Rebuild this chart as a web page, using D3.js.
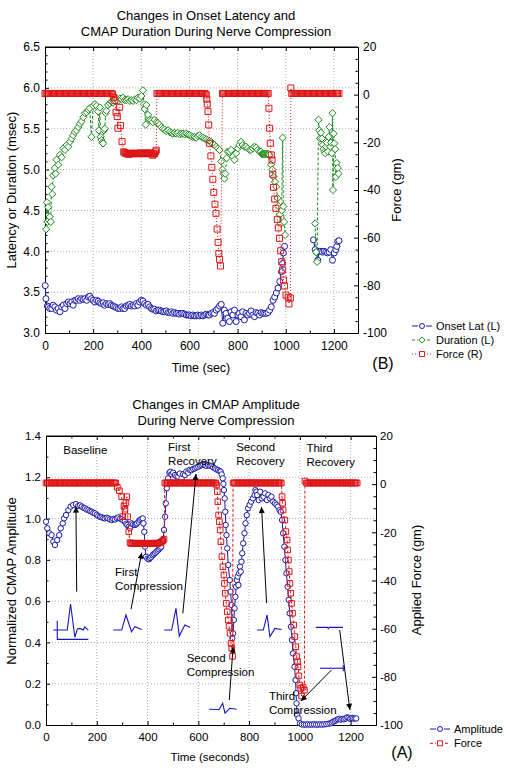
<!DOCTYPE html>
<html><head><meta charset="utf-8">
<script src="https://cdn.jsdelivr.net/npm/d3@7"></script>
<style>body{margin:0;background:#fff}svg{display:block}text{font-family:"Liberation Sans",Arial,sans-serif}</style>
</head><body><svg id="c" width="506" height="777"></svg>
<script>
// ---------- DATA ----------
const xTicks = [0,200,400,600,800,1000,1200];
const yTicksB = [3.0,3.5,4.0,4.5,5.0,5.5,6.0,6.5];
const yTicksA = [0.0,0.2,0.4,0.6,0.8,1.0,1.2,1.4];
const forceTicks = [-100,-80,-60,-40,-20,0,20];
const titleB = ["Changes in Onset Latency and","CMAP Duration During Nerve Compression"];
const titleA = ["Changes in CMAP Amplitude","During Nerve Compression"];
const legendB = ["Onset Lat (L)","Duration (L)","Force (R)"];
const legendA = ["Amplitude","Force"];

// Panel B: onset latency (msec), [time s, value]; null = gap
const onsetLat = [[1,3.58],[4,3.42],[10,3.33],[14,3.32],[20,3.30],[28,3.30],[34,3.34],[41,3.32],[48,3.28],[55,3.30],[62,3.26],[69,3.32],[76,3.34],[83,3.30],[90,3.36],[97,3.38],[104,3.36],[111,3.38],[117,3.34],[124,3.40],[131,3.40],[138,3.42],[145,3.40],[152,3.42],[159,3.41],[166,3.42],[173,3.40],[180,3.44],[186,3.45],[193,3.42],[200,3.40],[207,3.38],[214,3.40],[221,3.39],[228,3.37],[235,3.36],[242,3.37],[248,3.34],[255,3.36],[262,3.35],[269,3.36],[276,3.34],[283,3.33],[290,3.32],[297,3.31],[304,3.30],[311,3.30],[318,3.32],[324,3.30],[331,3.30],[338,3.33],[345,3.34],[352,3.35],[359,3.33],[366,3.34],[373,3.33],[380,3.36],[386,3.34],[393,3.38],[400,3.40],[407,3.39],[414,3.36],[421,3.34],[428,3.35],[435,3.32],[442,3.30],[448,3.29],[455,3.29],[462,3.27],[469,3.28],[476,3.28],[483,3.27],[490,3.26],[497,3.26],[504,3.27],[511,3.25],[518,3.25],[525,3.26],[531,3.24],[538,3.25],[545,3.24],[552,3.24],[559,3.23],[566,3.24],[573,3.24],[580,3.23],[587,3.22],[594,3.22],[600,3.22],[607,3.21],[614,3.22],[621,3.21],[628,3.21],[635,3.22],[642,3.21],[649,3.22],[656,3.21],[663,3.22],[670,3.23],[677,3.22],[683,3.22],[690,3.24],[697,3.25],[704,3.24],[711,3.28],[718,3.30],[725,3.33],[732,3.35],[738,3.12],[745,3.28],[752,3.24],[759,3.18],[766,3.14],[773,3.26],[780,3.22],[787,3.28],[794,3.14],[801,3.22],[807,3.24],[814,3.20],[821,3.26],[828,3.16],[835,3.24],[842,3.22],[849,3.24],[856,3.27],[863,3.22],[870,3.20],[877,3.25],[884,3.24],[891,3.22],[898,3.25],[905,3.24],[912,3.24],[919,3.24],[926,3.25],[933,3.28],[940,3.32],[947,3.40],[954,3.44],[961,3.49],[968,3.55],[975,3.63],[982,3.75],[987,3.85],[990,3.98],[995,4.06],null,
[1115,4.14],[1122,4.02],[1128,3.99],[1133,3.89],[1139,4.00],[1146,4.00],[1152,3.99],[1159,4.00],[1166,3.99],[1173,3.98],[1180,3.99],[1187,4.02],[1194,3.89],[1201,3.98],[1208,4.02],[1212,4.06],[1216,4.12],[1221,4.13]];

// Panel B: CMAP duration (msec)
const duration = [[5,4.27],[8,4.6],[10,4.36],[13,4.54],[16,4.38],[20,4.42],[24,4.36],[27,4.79],[30,4.7],[34,4.93],[41,5.02],[44,4.95],[48,5.12],[55,5.06],[62,5.18],[69,5.15],[76,5.26],[83,5.24],[90,5.3],[97,5.28],[104,5.34],[111,5.38],[117,5.42],[124,5.46],[131,5.48],[138,5.52],[145,5.56],[152,5.59],[159,5.64],[166,5.69],[173,5.7],[180,5.73],[186,5.75],[193,5.4],[200,5.78],[207,5.8],[214,5.78],[221,5.71],[224,5.48],[228,5.76],[231,5.4],[235,5.36],[238,5.33],[241,5.32],[245,5.48],[248,5.5],[252,5.69],[255,5.72],[262,5.79],[269,5.81],[276,5.83],[283,5.82],[290,5.85],[297,5.87],[304,5.84],[311,5.87],[318,5.86],[324,5.88],[331,5.85],[338,5.85],[345,5.86],[352,5.84],[359,5.85],[366,5.84],[373,5.86],[380,5.85],[386,5.88],[393,5.87],[400,5.9],[407,5.97],[411,5.8],[414,5.74],[418,5.55],[421,5.79],[428,5.67],[435,5.61],[442,5.6],[448,5.58],[455,5.61],[462,5.58],[469,5.57],[476,5.55],[483,5.52],[490,5.5],[497,5.49],[504,5.47],[511,5.48],[518,5.46],[525,5.45],[531,5.44],[538,5.45],[545,5.44],[552,5.45],[559,5.43],[566,5.44],[573,5.44],[580,5.43],[587,5.44],[594,5.43],[600,5.42],[607,5.41],[614,5.40],[621,5.40],[628,5.39],[635,5.41],[642,5.42],[649,5.40],[656,5.39],[663,5.38],[670,5.37],[677,5.36],[683,5.35],[690,5.34],[697,5.31],[704,5.30],[711,5.28],[718,5.26],[725,5.24],[732,5.10],[737,5.0],[741,4.95],[745,4.89],[749,4.95],[755,5.14],[759,5.22],[766,5.22],[773,5.24],[780,5.16],[787,5.12],[794,5.20],[801,5.26],[807,5.30],[814,5.34],[821,5.30],[828,5.28],[835,5.28],[842,5.26],[849,5.24],[856,5.24],[863,5.26],[870,5.28],[877,5.27],[884,5.24],[891,5.22],[897,5.22],[901,5.19],[904,5.19],[908,5.19],[911,5.19],[915,5.19],[918,5.19],[922,5.19],[925,5.19],[929,5.19],[932,5.18],[939,5.06],[944,5.0],[950,4.91],[955,4.85],[960,4.79],[966,4.65],[970,4.55],[975,4.45],[979,4.34],[983,4.5],[987,5.39],[990,4.55],[993,4.36],[997,4.2],null,
[1122,4.34],[1126,3.99],[1130,3.87],[1136,5.61],[1139,5.48],[1142,5.38],[1146,5.45],[1150,5.38],[1154,5.30],[1157,5.25],[1161,5.22],[1164,5.20],[1168,5.28],[1171,5.33],[1175,5.22],[1178,5.40],[1182,5.52],[1185,5.28],[1188,5.33],[1191,5.20],[1194,5.69],[1196,4.75],[1199,5.44],[1202,5.32],[1205,5.25],[1208,4.91],[1212,5.08],[1216,5.02],[1219,4.95]];

// Panel B: force (gm)
const forceB = [[0,.5],[5,.5],[10,.5],[15,.5],[20,.5],[25,.5],[30,.5],[35,.5],[40,.5],[45,.5],[50,.5],[55,.5],[60,.5],[65,.5],[70,.5],[75,.5],[80,.5],[85,.5],[90,.5],[95,.5],[100,.5],[105,.5],[110,.5],[115,.5],[120,.5],[125,.5],[130,.5],[135,.5],[140,.5],[145,.5],[150,.5],[155,.5],[160,.5],[165,.5],[170,.5],[175,.5],[180,.5],[185,.5],[190,.5],[195,.5],[200,.5],[205,.5],[210,.5],[215,.5],[220,.5],[225,.5],[230,.5],[235,.5],[240,.5],[245,.5],[250,.5],[255,.5],[260,.5],[265,.5],[270,.5],[275,.5],
[280,.3],[285,-1.1],[290,-2.5],[295,-7.4],[300,-9.2],[303,-14.1],[310,-5.3],[314,-13],[320,-19.7],[327,-24],
[331,-24.4],[335,-24.5],[339,-24.8],[343,-24.6],[347,-25],[351,-24.7],[355,-24.8],[359,-24.6],[363,-24.8],[367,-24.6],[371,-24.7],[375,-24.6],[379,-24.7],[383,-24.8],[387,-24.6],[391,-24.7],[395,-24.5],[399,-24.6],[403,-24.7],[407,-24.8],[411,-24.5],[415,-24.6],[419,-24.7],[423,-24.6],[427,-24.5],[431,-24.8],[435,-24.6],[439,-24.5],[443,-24.7],[447,-25.4],[451,-24.9],[455,-24.8],[459,-24],[462,-23.3],
[465,.5],[470,.5],[475,.5],[480,.5],[485,.5],[490,.5],[495,.5],[500,.5],[505,.5],[510,.5],[515,.5],[520,.5],[525,.5],[530,.5],[535,.5],[540,.5],[545,.5],[550,.5],[555,.5],[560,.5],[565,.5],[570,.5],[575,.5],[580,.5],[585,.5],[590,.5],[595,.5],[600,.5],[605,.5],[610,.5],[615,.5],[620,.5],[625,.5],[630,.5],[635,.5],[640,.5],[645,.5],[650,.5],[655,.5],[660,.5],[665,.5],
[670,-.1],[672,-1.9],[674,-3.9],[677,-7.1],[680,-12.7],[683,-20.4],[689,-25.7],[693,-30.5],[697,-35.5],[701,-41],[706,-46],[710,-49.8],[715,-56.4],[719,-62],[722,-66.6],[725,-69.1],[729,-71.9],
[737,.5],[742,.5],[747,.5],[752,.5],[757,.5],[762,.5],[767,.5],[772,.5],[777,.5],[782,.5],[787,.5],[792,.5],[797,.5],[802,.5],[807,.5],[812,.5],[817,.5],[822,.5],[827,.5],[832,.5],[837,.5],[842,.5],[847,.5],[852,.5],[857,.5],[862,.5],[867,.5],[872,.5],[877,.5],[882,.5],[887,.5],[892,.5],[897,.5],[902,.5],[907,.5],[912,.5],[917,.5],[922,.5],[927,.5],
[930,-5.7],[933,-14.1],[936,-20.4],[940,-25.3],[943,-27.4],[946,-33.4],[949,-38.9],[954,-43.8],[959,-47.7],[965,-52.3],[969,-55.9],[974,-60.3],[979,-65.5],[983,-70.1],[987,-73.6],[991,-77.8],[995,-80.3],[1001,-84.1],[1010,-85],[1013,-87.8],[1019,-85.3],
[1021,2.8],[1025,.5],[1030,.5],[1035,.5],[1040,.5],[1045,.5],[1050,.5],[1055,.5],[1060,.5],[1065,.5],[1070,.5],[1075,.5],[1080,.5],[1085,.5],[1090,.5],[1095,.5],[1100,.5],[1105,.5],[1110,.5],[1115,.5],[1120,.5],[1125,.5],[1130,.5],[1135,.5],[1140,.5],[1145,.5],[1150,.5],[1155,.5],[1160,.5],[1165,.5],[1170,.5],[1175,.5],[1180,.5],[1185,.5],[1190,.5],[1195,.5],[1200,.5],[1205,.5],[1210,.5],[1215,.5],[1221,.5]];

// Panel A: normalized amplitude
const amplitude = [[0,0.985],[5,0.953],[13,0.929],[22,0.92],[29,0.888],[35,0.872],[44,0.896],[52,0.92],[58,0.953],[66,0.977],[71,1.001],[79,1.017],[88,1.041],[97,1.058],[107,1.066],[118,1.07],[127,1.061],[134,1.064],[141,1.058],[148,1.052],[154,1.05],[160,1.044],[167,1.041],[174,1.036],[180,1.033],[187,1.028],[193,1.025],[200,1.018],[206,1.012],[213,1.008],[219,1.006],[226,1.003],[232,1.001],[239,1.004],[245,1.001],[252,0.996],[259,0.993],[265,0.998],[272,0.996],[279,1.002],[285,1.006],[292,1.0],[298,0.996],[305,0.99],[311,0.985],[316,0.975],[320,0.969],[326,0.96],[331,0.953],[337,0.977],[343,0.972],[350,0.969],[355,0.972],[359,0.977],[365,0.985],[370,0.993],[376,0.998],[381,1.001],[384,0.977],[387,0.936],[390,0.864],[394,0.815],[400,0.806],[406,0.803],[410,0.809],[415,0.815],[420,0.822],[424,0.828],[430,0.833],[435,0.839],[440,0.845],[445,0.851],[450,0.858],[454,0.864],[461,0.896],[465,0.945],[469,1.009],[472,1.074],[476,1.147],[481,1.195],[486,1.222],[490,1.227],[495,1.215],[501,1.222],[508,1.211],[514,1.205],[521,1.203],[527,1.218],[534,1.195],[540,1.215],[547,1.211],[553,1.228],[560,1.222],[566,1.236],[573,1.235],[580,1.24],[587,1.243],[593,1.248],[600,1.251],[606,1.256],[613,1.259],[619,1.262],[626,1.259],[632,1.255],[639,1.259],[645,1.256],[652,1.254],[658,1.249],[665,1.243],[671,1.238],[678,1.235],[684,1.23],[688,1.227],[692,1.214],[696,1.195],[699,1.168],[701,1.138],[704,1.098],[706,1.033],[708,0.969],[711,0.92],[714,0.856],[718,0.775],[724,0.702],[727,0.646],[731,0.581],[734,0.42],[737,0.444],[740,0.509],[743,0.565],[746,0.621],[749,0.67],[752,0.702],[755,0.719],[758,0.678],[761,0.735],[764,0.767],[767,0.743],[770,0.791],[773,0.832],[777,0.88],[782,0.929],[786,0.977],[791,1.017],[796,1.05],[802,1.066],[808,1.082],[815,1.098],[822,1.114],[825,1.138],[829,1.13],[832,1.114],[838,1.09],[844,1.13],[850,1.098],[857,1.106],[863,1.122],[870,1.09],[876,1.114],[882,1.098],[888,1.106],[895,1.082],[902,1.074],[908,1.066],[914,1.058],[920,1.041],[925,1.033],[930,0.993],[934,0.929],[939,0.864],[943,0.799],[947,0.735],[952,0.67],[956,0.606],[960,0.541],[965,0.476],[969,0.412],[973,0.347],[979,0.282],[983,0.218],[985,0.154],[987,0.105],[989,0.049],[995,0.032],[1001,0.008],[1008,0.003],[1016,0.002],[1024,0.002],[1032,0.003],[1040,0.002],[1048,0.002],[1056,0.003],[1064,0.002],[1072,0.002],[1080,0.003],[1088,0.002],[1096,0.003],[1104,0.004],[1112,0.006],[1120,0.008],[1126,0.012],[1132,0.016],[1138,0.02],[1144,0.024],[1150,0.028],[1156,0.03],[1162,0.026],[1168,0.03],[1174,0.028],[1180,0.032],[1186,0.037],[1192,0.035],[1198,0.03],[1204,0.033],[1210,0.032],[1216,0.031],[1222,0.032]];

// Panel A: applied force (gm)
const forceA = [[0,.5],[5,.5],[10,.5],[15,.5],[20,.5],[25,.5],[30,.5],[35,.5],[40,.5],[45,.5],[50,.5],[55,.5],[60,.5],[65,.5],[70,.5],[75,.5],[80,.5],[85,.5],[90,.5],[95,.5],[100,.5],[105,.5],[110,.5],[115,.5],[120,.5],[125,.5],[130,.5],[135,.5],[140,.5],[145,.5],[150,.5],[155,.5],[160,.5],[165,.5],[170,.5],[175,.5],[180,.5],[185,.5],[190,.5],[195,.5],[200,.5],[205,.5],[210,.5],[215,.5],[220,.5],[225,.5],[230,.5],[235,.5],[240,.5],[245,.5],[250,.5],[255,.5],[260,.5],[265,.5],[270,.5],[275,.5],
[281,-1.3],[289,-2.7],[298,-5.2],[302,-13.5],[307,-9.1],[311,-10.4],[315,-7.7],[318,-5.2],[322,-13.5],[326,-19.7],[331,-24.3],
[335,-24.6],[339,-24.5],[343,-24.5],[347,-24.7],[351,-24.7],[355,-24.6],[359,-24.5],[363,-24.5],[367,-24.7],[371,-24.6],[375,-24.6],[379,-24.5],[383,-24.5],[387,-24.6],[391,-24.7],[395,-24.6],[399,-24.5],[403,-24.6],[407,-24.6],[411,-24.6],[415,-24.5],[419,-24.6],[423,-24.7],[427,-24.6],[431,-24.5],[435,-24.5],[439,-24.6],[443,-24.5],[447,-24.4],[451,-24.2],[456,-23.8],[460,-23.5],[465,-22.9],
[468,.5],[473,.5],[478,.5],[483,.5],[488,.5],[493,.5],[498,.5],[503,.5],[508,.5],[513,.5],[518,.5],[523,.5],[528,.5],[533,.5],[538,.5],[543,.5],[548,.5],[553,.5],[558,.5],[563,.5],[568,.5],[573,.5],[578,.5],[583,.5],[588,.5],[593,.5],[598,.5],[603,.5],[608,.5],[613,.5],[618,.5],[623,.5],[628,.5],[633,.5],[638,.5],[643,.5],[648,.5],[653,.5],[658,.5],[663,.5],[668,.5],
[672,-.3],[675,-3.1],[677,-7.3],[680,-12.8],[683,-15.6],[686,-19],[689,-23.9],[693,-30.1],[697,-34.3],[701,-37.7],[703,-41.2],[706,-45.3],[710,-49.5],[714,-53],[718,-56.4],[721,-59],[725,-61.9],[729,-66.1],[732,-68.1],[735,-71.5],
[737,.5],[742,.5],[747,.5],[752,.5],[757,.5],[762,.5],[767,.5],[772,.5],[777,.5],[782,.5],[787,.5],[792,.5],[797,.5],[802,.5],[807,.5],[812,.5],[817,.5],[822,.5],[827,.5],[832,.5],[837,.5],[842,.5],[847,.5],[852,.5],[857,.5],[862,.5],[867,.5],[872,.5],[877,.5],[882,.5],[887,.5],[892,.5],[897,.5],[902,.5],[907,.5],[912,.5],[917,.5],[922,.5],[927,.5],
[930,-5.2],[932,-7.9],[934,-10.7],[941,-14.9],[945,-19.7],[950,-23.2],[952,-27.3],[955,-31.5],[958,-36.3],[961,-41.2],[964,-45.3],[967,-49.5],[971,-53.6],[976,-58.5],[980,-63.3],[984,-67.5],[987,-71.6],[991,-73.7],[993,-75.8],[996,-79.6],[1000,-83.4],[1004,-84.8],[1007,-88],[1013,-84.3],[1018,-85.5],
[1020,1.3],[1026,.5],[1031,.5],[1036,.5],[1041,.5],[1046,.5],[1051,.5],[1056,.5],[1061,.5],[1066,.5],[1071,.5],[1076,.5],[1081,.5],[1086,.5],[1091,.5],[1096,.5],[1101,.5],[1106,.5],[1111,.5],[1116,.5],[1121,.5],[1126,.5],[1131,.5],[1136,.5],[1141,.5],[1146,.5],[1151,.5],[1156,.5],[1161,.5],[1166,.5],[1171,.5],[1176,.5],[1181,.5],[1186,.5],[1191,.5],[1196,.5],[1201,.5],[1206,.5],[1211,.5],[1216,.5],[1221,.5],[1226,.5]];

// Panel A annotations: text lines anchored at [time, amplitude]
const notes = [
  {lines:["Baseline"], at:[68,1.313]},
  {lines:["First","Recovery"], at:[481,1.329]},
  {lines:["Second","Recovery"], at:[749,1.329]},
  {lines:["Third","Recovery"], at:[1026,1.322]},
  {lines:["First","Compression"], at:[272,0.722]},
  {lines:["Second","Compression"], at:[554,0.305]},
  {lines:["Third","Compression"], at:[878,0.121]}
];
// arrows [from, to] in [time, amplitude]
const arrows = [
  [[121,0.646],[118,1.058]],
  [[335,0.561],[377,0.835]],
  [[539,0.541],[591,1.216]],
  [[869,0.590],[849,1.056]],
  [[722,0.121],[737,0.379]],
  [[1125,0.267],[1004,0.116]],
  [[1157,0.460],[1197,0.073]]
];
// CMAP waveform sketches: anchor [time, amplitude] + offsets
const waves = [
  {at:[28.7,0.46], shape:[[0,0],[55,0],[68,0.126],[85,-0.035],[95,0.005],[105,0.008],[118,0],[124,0.015],[138,0]]},
  {at:[28.7,0.46], shape:[[15.7,0.045],[15.7,-0.045],[138,-0.045]]},
  {at:[265,0.46], shape:[[0,0],[33,0],[50,0.073],[72,-0.008],[85,0.016],[112,0.003]]},
  {at:[466,0.46], shape:[[0,0],[29,0],[46,0.105],[59,-0.029],[81,0.024],[101,0.013]]},
  {at:[643,0.076], shape:[[0,0],[39,-0.001],[53,0.029],[62,-0.019],[81,0.005],[108,0]]},
  {at:[832,0.46], shape:[[0,0],[24,0],[39,0.073],[50,-0.032],[70,0.008],[96,0.003]]},
  {at:[1063,0.473], shape:[[0,0],[46,0],[49,-0.006],[53,0],[107,0]]},
  {at:[1079,0.275], shape:[[0,0],[92,0]]},
  {at:[1079,0.275], shape:[[92,0.015],[92,-0.015]]}
];

// ---------- DRAWING ----------
const BLUE="#1a1aaa", GREEN="#1c8a1c", RED="#dd1515";
const svg = d3.select("#c");
const defs = svg.append("defs");
defs.append("marker").attr("id","ah").attr("viewBox","0 0 10 10").attr("refX",10).attr("refY",5)
  .attr("markerWidth",9).attr("markerHeight",6).attr("markerUnits","userSpaceOnUse").attr("orient","auto")
  .append("path").attr("d","M0,0L10,5L0,10Z").attr("fill","#000");

function range(a,b,s){const r=[];for(let v=a;v<=b+1e-9;v+=s)r.push(+v.toFixed(4));return r;}

function frame(P){
  const x=d3.scaleLinear().domain([0,1300]).range([P.l,P.r]);
  const y=d3.scaleLinear().domain(P.yDom).range([P.b,P.t]);
  const y2=d3.scaleLinear().domain([-100,20]).range([P.b,P.t]);
  const g=svg.append("g");
  g.selectAll(null).data(xTicks.filter(d=>d>0)).join("line")
    .attr("x1",d=>x(d)).attr("x2",d=>x(d)).attr("y1",P.t).attr("y2",P.b)
    .attr("stroke","#b0b0b0").attr("stroke-dasharray","1,2");
  g.selectAll(null).data(P.yTicks.slice(1,-1)).join("line")
    .attr("y1",d=>y(d)).attr("y2",d=>y(d)).attr("x1",P.l).attr("x2",P.r)
    .attr("stroke","#b0b0b0").attr("stroke-dasharray","1,2");
  const minorX=range(100,1300,100).filter(d=>d%200);
  const mm=(ax,vals,len)=>ax.tickValues(vals).tickSize(len).tickSizeOuter(0).tickFormat("");
  g.append("g").attr("transform",`translate(0,${P.b})`).call(mm(d3.axisBottom(x),minorX,-2.5));
  g.append("g").attr("transform",`translate(0,${P.t})`).call(mm(d3.axisTop(x),minorX,-2.5));
  g.append("g").attr("transform",`translate(0,${P.t})`).call(mm(d3.axisTop(x),xTicks,-4));
  g.append("g").attr("transform",`translate(${P.l},0)`).call(mm(d3.axisLeft(y),P.yMinor,-2.5));
  g.append("g").attr("transform",`translate(${P.r},0)`).call(mm(d3.axisRight(y2),range(-95,15,5).filter(d=>d%20),-2.5));
  const ax=[];
  ax.push(g.append("g").attr("transform",`translate(0,${P.b})`)
    .call(d3.axisBottom(x).tickValues(xTicks).tickSize(-4).tickSizeOuter(0).tickPadding(P.xPad).tickFormat(d=>String(d))));
  ax.push(g.append("g").attr("transform",`translate(${P.l},0)`)
    .call(d3.axisLeft(y).tickValues(P.yTicks).tickSize(-4).tickSizeOuter(0).tickPadding(5).tickFormat(d3.format(".1f"))));
  ax.push(g.append("g").attr("transform",`translate(${P.r},0)`)
    .call(d3.axisRight(y2).tickValues(forceTicks).tickSize(-4).tickSizeOuter(0).tickPadding(P.rPad).tickFormat(d=>String(d))));
  ax.forEach(a=>a.attr("font-size",P.fs).attr("font-family",null).selectAll("text").attr("fill","#000"));
  g.selectAll(".domain").attr("stroke","#000");
  g.selectAll(".tick line").attr("stroke","#000");
  g.append("line").attr("x1",P.l).attr("x2",P.r).attr("y1",P.t).attr("y2",P.t).attr("stroke","#000");
  return {x,y,y2,g};
}

function series(g,data,x,y,color,dash,shape,size){
  const line=d3.line().defined(d=>d).x(d=>x(d[0])).y(d=>y(d[1]));
  g.append("path").attr("d",line(data)).attr("fill","none").attr("stroke",color).attr("stroke-width",1)
    .attr("stroke-dasharray",dash);
  marks(g,data.filter(d=>d).map(d=>[x(d[0]),y(d[1])]),color,shape,size);
}
function marks(g,xy,color,shape,size){
  const s=size;
  g.selectAll(null).data(xy).join("path")
    .attr("d",([px,py])=>{
      if(shape==="circle") return `M${px-s},${py}a${s},${s} 0 1,0 ${2*s},0a${s},${s} 0 1,0 ${-2*s},0Z`;
      if(shape==="square") return `M${px-s},${py-s}h${2*s}v${2*s}h${-2*s}Z`;
      return `M${px},${py-s-0.6}L${px+s+0.6},${py}L${px},${py+s+0.6}L${px-s-0.6},${py}Z`;
    })
    .attr("fill",shape==="square"?"none":"#fff").attr("stroke",color).attr("stroke-width",1);
}
function legend(items,x0,y0,dy,tx,fs){
  items.forEach((it,i)=>{
    const yy=y0+i*dy;
    svg.append("line").attr("x1",x0).attr("x2",x0+20).attr("y1",yy).attr("y2",yy)
      .attr("stroke",it.color).attr("stroke-dasharray",it.dash);
    svg.append("rect").attr("x",x0+6).attr("y",yy-3.5).attr("width",8).attr("height",7).attr("fill","#fff");
    marks(svg,[[x0+10,yy]],it.color,it.shape,it.size);
    svg.append("text").attr("x",tx).attr("y",yy+4).attr("font-size",fs).text(it.label);
  });
}
function txt(x,y,s,fs,anchor,rot){
  const t=svg.append("text").attr("font-size",fs).attr("text-anchor",anchor||"start").text(s);
  if(rot) t.attr("transform",`translate(${x},${y}) rotate(-90)`); else t.attr("x",x).attr("y",y);
  return t;
}

// ===== Panel B =====
const PB={l:45,r:358,t:47,b:333,yDom:[3,6.5],yTicks:yTicksB,yMinor:range(3.1,6.4,0.1).filter(v=>Math.abs(v*2-Math.round(v*2))>1e-6),xPad:8.5,rPad:5,fs:12};
const B=frame(PB);
series(B.g,onsetLat,B.x,B.y,BLUE,null,"circle",3);
series(B.g,duration,B.x,B.y,GREEN,"3,2","diamond",3);
series(B.g,forceB,B.x,B.y2,RED,"1,2","square",3);
titleB.forEach((s,i)=>txt(206,19.5+i*16.7,s,13,"middle"));
txt(16,190,"Latency or Duration (msec)",13,"middle",true);
txt(401,190,"Force (gm)",13,"middle",true);
txt(201,372,"Time (sec)",12.5,"middle");
txt(383,369,"(B)",16,"middle");
legend([{label:legendB[0],color:BLUE,dash:null,shape:"circle",size:2.5},
        {label:legendB[1],color:GREEN,dash:"3,2",shape:"diamond",size:2.5},
        {label:legendB[2],color:RED,dash:"1,2",shape:"square",size:2.5}],412,326,14,436,11);

// ===== Panel A =====
const PA={l:46,r:376,t:436,b:725,yDom:[0,1.4],yTicks:yTicksA,yMinor:range(0.1,1.3,0.2),xPad:7.8,rPad:4,fs:11.5};
const A=frame(PA);
series(A.g,amplitude,A.x,A.y,BLUE,null,"circle",2.7);
series(A.g,forceA,A.x,A.y2,RED,"3,2","square",2.8);
waves.forEach(w=>{
  A.g.append("path").attr("d",d3.line().x(d=>A.x(w.at[0]+d[0])).y(d=>A.y(w.at[1]+d[1]))(w.shape))
    .attr("fill","none").attr("stroke","#1414c8").attr("stroke-width",1.1);
});
arrows.forEach(([f,t])=>{
  A.g.append("line").attr("x1",A.x(f[0])).attr("y1",A.y(f[1])).attr("x2",A.x(t[0])).attr("y2",A.y(t[1]))
    .attr("stroke","#000").attr("stroke-width",1).attr("marker-end","url(#ah)");
});
notes.forEach(n=>n.lines.forEach((s,i)=>txt(A.x(n.at[0]),A.y(n.at[1])+i*14,s,11.5)));
titleA.forEach((s,i)=>txt(216,408.5+i*16.7,s,13,"middle"));
txt(16,581,"Normalized CMAP Amplitude",13,"middle",true);
txt(421,580,"Applied Force (gm)",13,"middle",true);
txt(210,761,"Time (seconds)",11.5,"middle");
txt(402,758,"(A)",16,"middle");
legend([{label:legendA[0],color:BLUE,dash:null,shape:"circle",size:2.5},
        {label:legendA[1],color:RED,dash:"3,2",shape:"square",size:2.5}],430,729,14.3,454,11);
</script></body></html>
